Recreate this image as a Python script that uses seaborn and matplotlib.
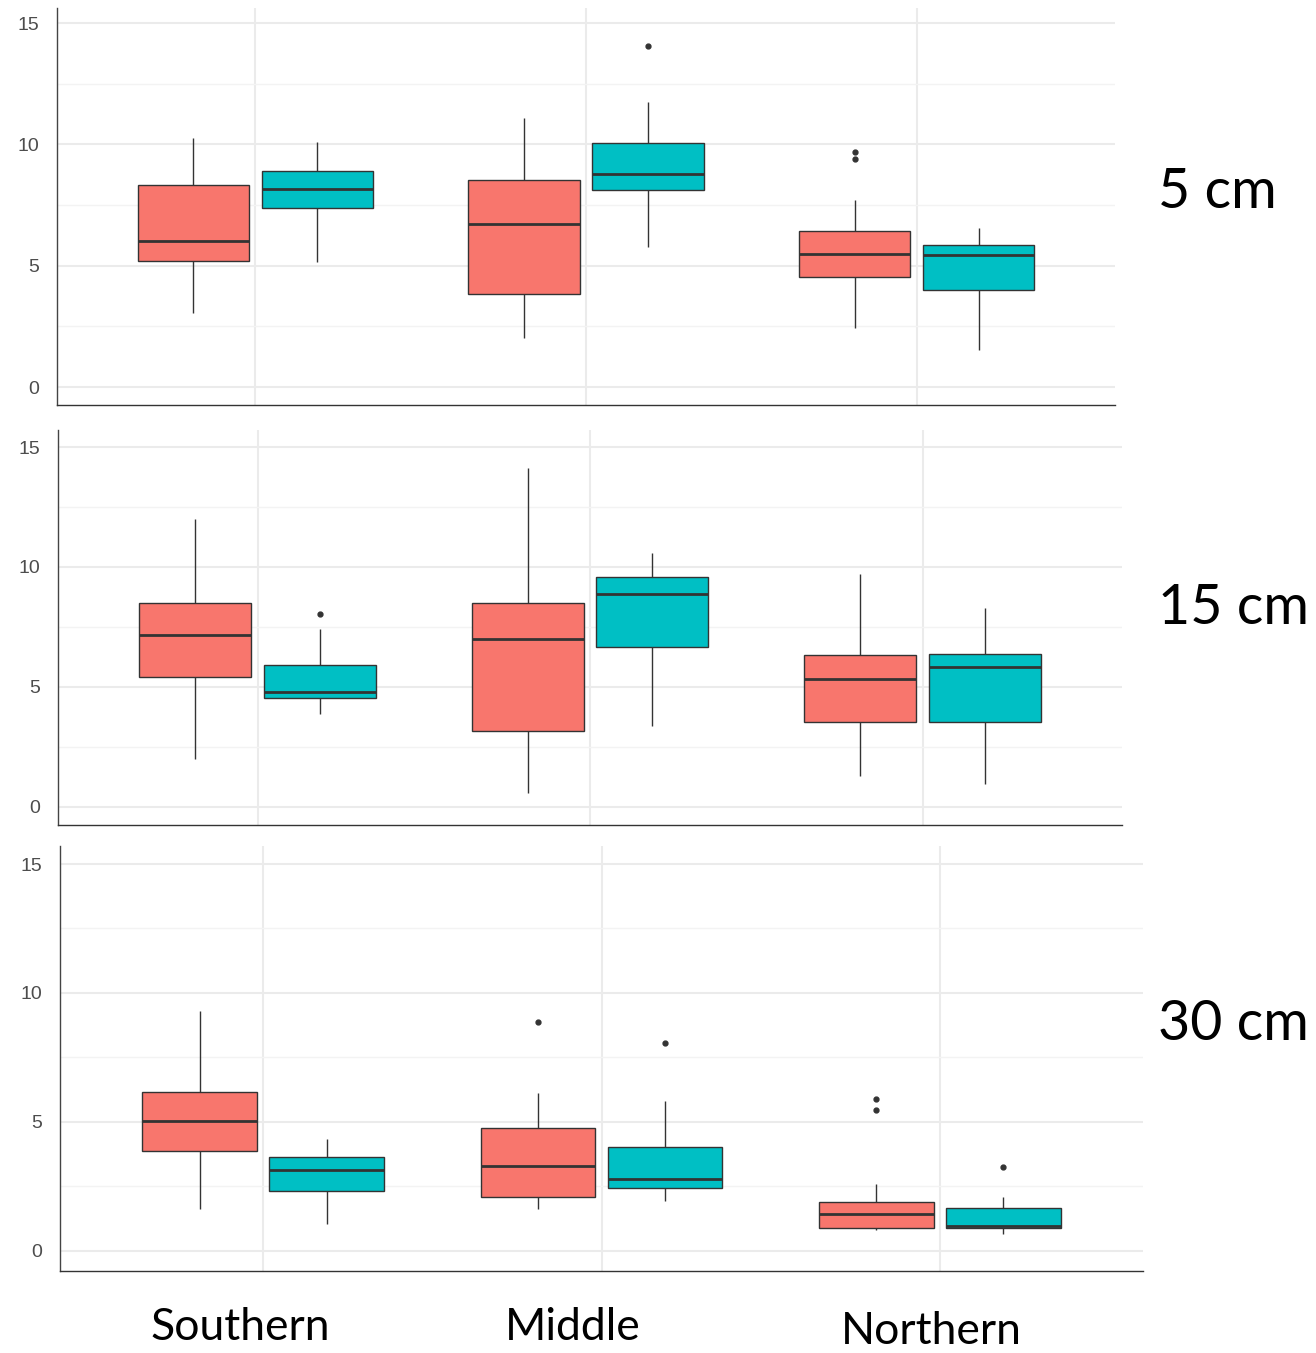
import matplotlib
matplotlib.use("Agg")
import matplotlib.pyplot as plt
import seaborn as sns
import pandas as pd

# Regions on the x axis and the two series compared in each region
regions = ["Southern", "Middle", "Northern"]
series = ["Group 1", "Group 2"]
depths = ["5 cm", "15 cm", "30 cm"]
palette = ["#F8766D", "#00BFC4"]

# Five-number summaries (lower whisker, Q1, median, Q3, upper whisker), one per region
g1_5cm = [(3.04, 5.18, 6.00, 8.31, 10.27), (2.03, 3.85, 6.72, 8.53, 11.07), (2.44, 4.55, 5.48, 6.45, 7.71)]
g2_5cm = [(5.16, 7.38, 8.16, 8.89, 10.10), (5.76, 8.13, 8.76, 10.05, 11.74), (1.52, 4.01, 5.44, 5.85, 6.54)]
g1_15cm = [(1.98, 5.40, 7.16, 8.48, 11.98), (0.58, 3.16, 7.01, 8.48, 14.11), (1.28, 3.55, 5.33, 6.31, 9.70)]
g2_15cm = [(3.88, 4.55, 4.80, 5.91, 7.42), (3.38, 6.65, 8.87, 9.58, 10.57), (0.93, 3.55, 5.84, 6.37, 8.29)]
g1_30cm = [(1.60, 3.88, 5.04, 6.17, 9.30), (1.60, 2.10, 3.29, 4.75, 6.10), (0.80, 0.87, 1.41, 1.88, 2.58)]
g2_30cm = [(1.05, 2.30, 3.13, 3.62, 4.33), (1.93, 2.42, 2.77, 4.03, 5.80), (0.64, 0.87, 0.96, 1.64, 2.09)]

# Outlying observations, one list per region
g1_5cm_out = [[], [], [9.40, 9.70]]
g2_5cm_out = [[], [14.06], []]
g1_15cm_out = [[], [], []]
g2_15cm_out = [[8.05], [], []]
g1_30cm_out = [[], [8.88], [5.47, 5.87]]
g2_30cm_out = [[], [8.05], [3.26]]

panels = [
    (g1_5cm, g1_5cm_out, g2_5cm, g2_5cm_out),
    (g1_15cm, g1_15cm_out, g2_15cm, g2_15cm_out),
    (g1_30cm, g1_30cm_out, g2_30cm, g2_30cm_out),
]


def observations(summary, extra):
    """Observation set whose quartiles and whisker ends equal the summary."""
    lo, q1, med, q3, hi = summary
    m = len(extra) + 1
    return [lo] + [q1] * m + [med] * m + [q3] * m + [hi] + sorted(extra)


def panel_frame(g1, g1_out, g2, g2_out):
    rows = []
    for name, summ, outs in ((series[0], g1, g1_out), (series[1], g2, g2_out)):
        for region, s, o in zip(regions, summ, outs):
            for v in observations(s, o):
                rows.append({"region": region, "series": name, "value": v})
    return pd.DataFrame(rows)


sns.set_theme(style="white")
plt.rcParams["font.family"] = ["Liberation Sans", "DejaVu Sans"]

W, H = 1316, 1353
fig = plt.figure(figsize=(W / 100, H / 100), dpi=100)

# Axes boxes in pixels: left, top, right, bottom, and y limits
boxes = [
    (57, 8, 1115, 405, (-0.74, 15.62)),
    (58, 430, 1122, 825, (-0.76, 15.71)),
    (60, 846, 1143, 1271, (-0.79, 15.70)),
]
depth_y = [192, 608, 1025]

for (l, t, r, b, ylim), data, depth, dy in zip(boxes, panels, depths, depth_y):
    ax = fig.add_axes([l / W, 1 - b / H, (r - l) / W, (b - t) / H])
    df = panel_frame(*data)
    sns.boxplot(
        data=df, x="region", y="value", hue="series",
        order=regions, hue_order=series, palette=palette, saturation=1,
        width=0.75, gap=0.1, whis=1.5, showcaps=False,
        linecolor="#333333", linewidth=1.0,
        medianprops={"linewidth": 2.0, "color": "#333333"},
        flierprops={"marker": "o", "markersize": 3.5,
                    "markerfacecolor": "#333333", "markeredgecolor": "#333333"},
        legend=False, ax=ax,
    )
    ax.set_xlim(-0.6, 2.6)
    ax.set_ylim(*ylim)
    ax.set_yticks([0, 5, 10, 15])
    ax.set_yticks([2.5, 7.5, 12.5], minor=True)
    ax.set_xticks([0, 1, 2])
    ax.set_xticklabels([])
    ax.set_xlabel("")
    ax.set_ylabel("")
    ax.set_axisbelow(True)
    ax.grid(which="major", axis="both", color="#ebebeb", linewidth=1.5)
    ax.grid(which="minor", axis="y", color="#f3f3f3", linewidth=1.0)
    ax.tick_params(axis="both", which="both", length=0)
    ax.tick_params(axis="y", labelsize=14, labelcolor="#4d4d4d", pad=13)
    for side in ("top", "right"):
        ax.spines[side].set_visible(False)
    ax.spines["left"].set_color("#444444")
    ax.spines["bottom"].set_color("#333333")
    ax.spines["left"].set_linewidth(1.0)
    ax.spines["bottom"].set_linewidth(1.0)

    fig.text(1158 / W, 1 - dy / H, depth, ha="left", va="center",
             fontsize=40, family=["Lato", "DejaVu Sans"], color="black")

for name, x, y in zip(regions, [240, 573, 931], [1327, 1327, 1332]):
    fig.text(x / W, 1 - y / H, name, ha="center", va="center",
             fontsize=32, family=["Lato", "DejaVu Sans"], color="black")

fig.savefig("out.png", dpi=100)
